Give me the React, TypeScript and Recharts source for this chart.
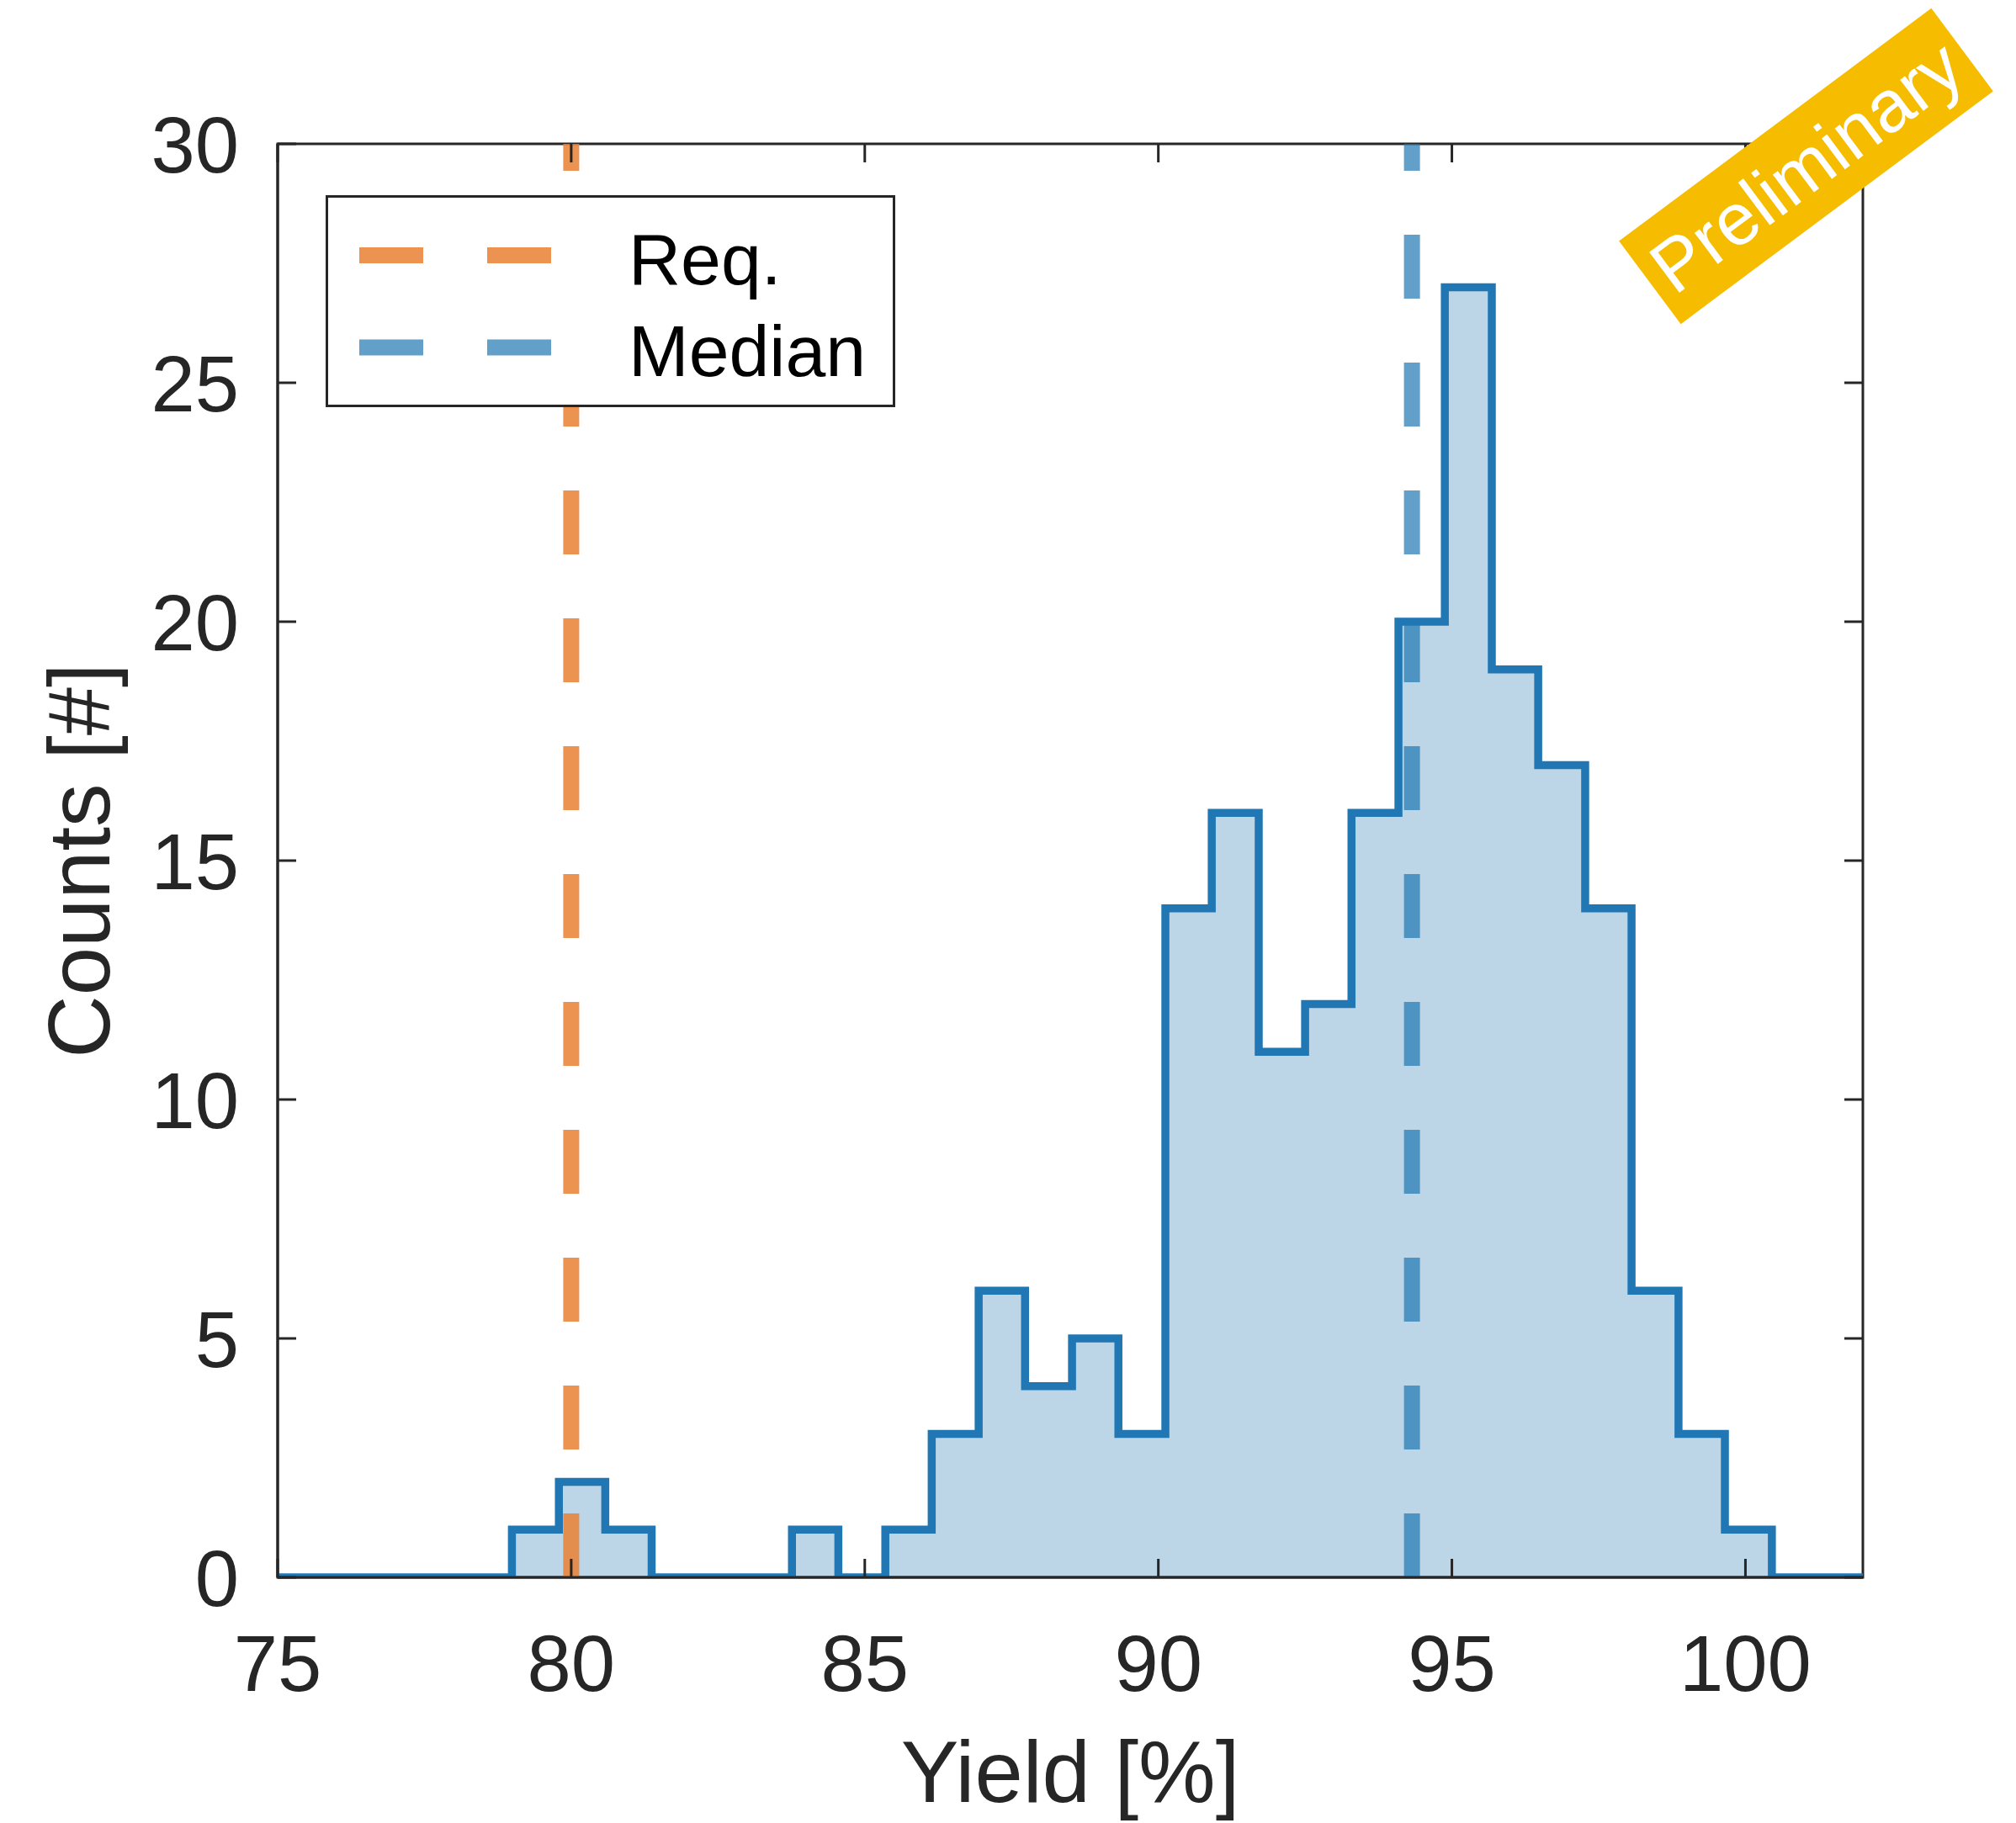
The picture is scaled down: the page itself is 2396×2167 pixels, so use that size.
import React from "react";
import {
  ComposedChart,
  Area,
  XAxis,
  YAxis,
  ReferenceLine,
  ReferenceArea,
} from "recharts";

// histogram bin edges (yield %) and counts per bin
const binEdges = [
  78.99, 79.79, 80.58, 81.37, 82.17, 82.96, 83.76, 84.55, 85.35, 86.14, 86.94,
  87.73, 88.53, 89.32, 90.12, 90.91, 91.71, 92.5, 93.29, 94.09, 94.88, 95.68,
  96.47, 97.27, 98.06, 98.86, 99.65, 100.45,
];
const binCounts = [
  1, 2, 1, 0, 0, 0, 1, 0, 1, 3, 6, 4, 5, 3, 14, 16, 11, 12, 16, 20, 27, 19, 17,
  14, 6, 3, 1,
];

const xTicks = [75, 80, 85, 90, 95, 100];
const yTicks = [0, 5, 10, 15, 20, 25, 30];
const xDomain = [75, 102];
const yDomain = [0, 30];

const reqYield = 80;
const medianYield = 94.32;

const legendItems = [
  { label: "Req.", color: "#EA8033", opacity: 0.85 },
  { label: "Median", color: "#2077B4", opacity: 0.7 },
];

const FONT = "'Liberation Sans', Arial, Helvetica, sans-serif";
const AXIS = "#262626";
const PLOT_W = 1884;
const PLOT_H = 1704;
const TICK = 22;

// stairs outline: flat at 0 from the left edge, one step per bin, flat to the right edge
const histData = [
  { x: xDomain[0], count: 0 },
  ...binEdges.map((x, i) => ({ x, count: i < binCounts.length ? binCounts[i] : 0 })),
  { x: xDomain[1], count: 0 },
];

const XTick = (props: any) => {
  const { x, y, payload } = props;
  return (
    <g>
      <line x1={x} y1={y} x2={x} y2={y - TICK} stroke={AXIS} strokeWidth={3} />
      <line x1={x} y1={y - PLOT_H} x2={x} y2={y - PLOT_H + TICK} stroke={AXIS} strokeWidth={3} />
      <text x={x} y={y + 135} textAnchor="middle" fill={AXIS} fontSize={94} fontFamily={FONT}>
        {payload.value}
      </text>
    </g>
  );
};

const YTick = (props: any) => {
  const { x, y, payload } = props;
  return (
    <g>
      <line x1={x} y1={y} x2={x + TICK} y2={y} stroke={AXIS} strokeWidth={3} />
      <line x1={x + PLOT_W} y1={y} x2={x + PLOT_W - TICK} y2={y} stroke={AXIS} strokeWidth={3} />
      <text x={x - 46} y={y + 34} textAnchor="end" fill={AXIS} fontSize={94} fontFamily={FONT}>
        {payload.value}
      </text>
    </g>
  );
};

const XTitle = (props: any) => {
  const vb = props.viewBox;
  return (
    <text x={vb.x + vb.width / 2} y={vb.y + 267} textAnchor="middle" fill={AXIS} fontSize={103} fontFamily={FONT}>
      Yield [%]
    </text>
  );
};

const YTitle = (props: any) => {
  const vb = props.viewBox;
  const cx = vb.x + vb.width - 200;
  const cy = vb.y + vb.height / 2;
  return (
    <text
      x={cx}
      y={cy}
      transform={`rotate(-90, ${cx}, ${cy})`}
      textAnchor="middle"
      fill={AXIS}
      fontSize={103}
      fontFamily={FONT}
    >
      Counts [#]
    </text>
  );
};

function LegendBox() {
  return (
    <div
      style={{
        position: "absolute",
        left: 387,
        top: 232,
        width: 677,
        height: 252,
        boxSizing: "border-box",
        border: `3px solid ${AXIS}`,
        background: "#fff",
      }}
    >
      <svg width={671} height={246} style={{ position: "absolute", left: 0, top: 0 }}>
        {legendItems.map((it, i) => (
          <g key={it.label}>
            <line
              x1={37}
              x2={265}
              y1={68.5 + i * 109.5}
              y2={68.5 + i * 109.5}
              stroke={it.color}
              strokeOpacity={it.opacity}
              strokeWidth={19}
              strokeDasharray="76 76"
            />
            <text x={357} y={103 + i * 109} fontSize={86} fontFamily={FONT} fill="#000">
              {it.label}
            </text>
          </g>
        ))}
      </svg>
    </div>
  );
}

function Stamp() {
  return (
    <div
      style={{
        position: "absolute",
        left: 1915,
        top: 136,
        width: 463,
        height: 123,
        background: "#F6BD00",
        color: "#fff",
        fontFamily: FONT,
        fontSize: 87,
        lineHeight: "123px",
        textAlign: "center",
        whiteSpace: "nowrap",
        transform: "rotate(-36.7deg)",
      }}
    >
      Preliminary
    </div>
  );
}

export default function App() {
  return (
    <div style={{ position: "absolute", left: 0, top: 0, width: 2396, height: 2167, background: "#fff" }}>
      <ComposedChart
        width={2396}
        height={2167}
        data={histData}
        margin={{ top: 171, right: 182, bottom: 192, left: 230 }}
      >
        <ReferenceArea
          x1={xDomain[0]}
          x2={xDomain[1]}
          y1={yDomain[0]}
          y2={yDomain[1]}
          fill="none"
          stroke={AXIS}
          strokeWidth={3}
        />
        <XAxis
          type="number"
          dataKey="x"
          domain={xDomain}
          ticks={xTicks}
          allowDataOverflow
          interval={0}
          height={100}
          tickSize={0}
          tickMargin={0}
          tickLine={false}
          axisLine={{ stroke: AXIS, strokeWidth: 3 }}
          tick={XTick}
          label={XTitle}
        />
        <YAxis
          type="number"
          domain={yDomain}
          ticks={yTicks}
          allowDataOverflow
          interval={0}
          width={100}
          tickSize={0}
          tickMargin={0}
          tickLine={false}
          axisLine={{ stroke: AXIS, strokeWidth: 3 }}
          tick={YTick}
          label={YTitle}
        />
        <Area
          type="stepAfter"
          dataKey="count"
          stroke="#2077B4"
          strokeWidth={9.5}
          strokeLinecap="square"
          strokeLinejoin="miter"
          fill="#2077B4"
          fillOpacity={0.3}
          dot={false}
          activeDot={false}
          isAnimationActive={false}
        />
        <ReferenceLine
          segment={[
            { x: reqYield, y: yDomain[0] },
            { x: reqYield, y: yDomain[1] },
          ]}
          stroke="#EA8033"
          strokeOpacity={0.85}
          strokeWidth={19}
          strokeDasharray="76 76"
        />
        <ReferenceLine
          segment={[
            { x: medianYield, y: yDomain[0] },
            { x: medianYield, y: yDomain[1] },
          ]}
          stroke="#2077B4"
          strokeOpacity={0.7}
          strokeWidth={19}
          strokeDasharray="76 76"
        />
      </ComposedChart>
      <LegendBox />
      <Stamp />
    </div>
  );
}
